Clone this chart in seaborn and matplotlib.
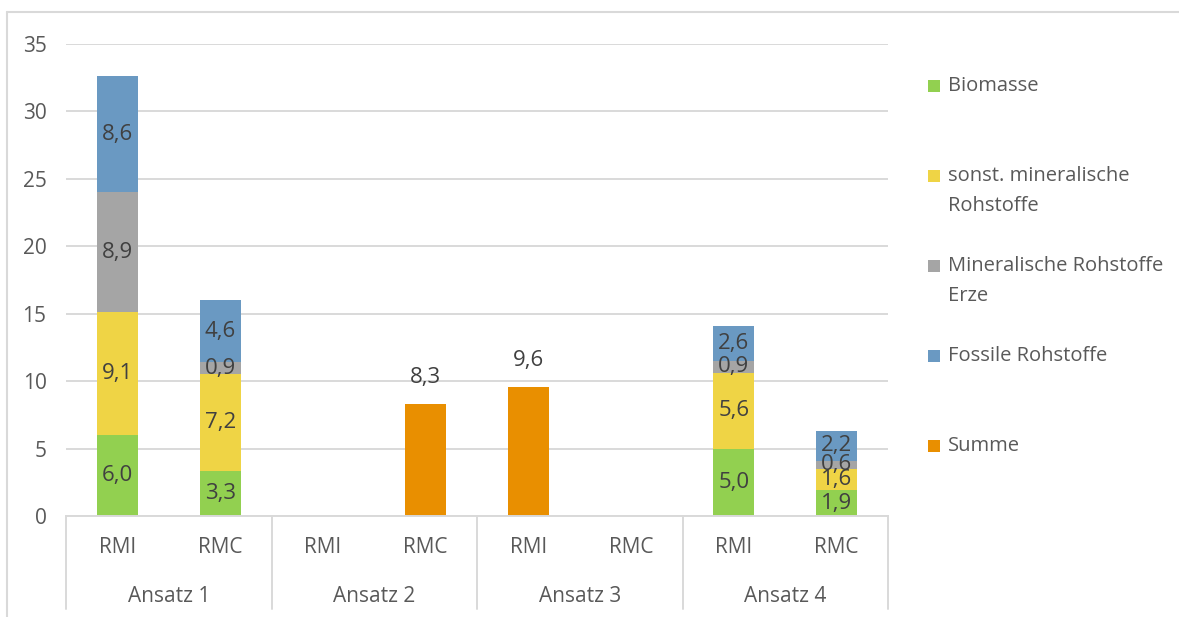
import numpy as np
import pandas as pd
import matplotlib.pyplot as plt
import seaborn as sns
from matplotlib.lines import Line2D
from matplotlib.patches import Rectangle
from matplotlib.transforms import blended_transform_factory

# Data (one value per bar: A1 RMI, A1 RMC, A2 RMI, A2 RMC, A3 RMI, A3 RMC, A4 RMI, A4 RMC)
ansatz = ['Ansatz 1', 'Ansatz 2', 'Ansatz 3', 'Ansatz 4']
indikator = ['RMI', 'RMC']
biomasse = [6.0, 3.3, 0, 0, 0, 0, 5.0, 1.9]
sonst_mineral = [9.1, 7.2, 0, 0, 0, 0, 5.6, 1.6]
mineral_erze = [8.9, 0.9, 0, 0, 0, 0, 0.9, 0.6]
fossil = [8.6, 4.6, 0, 0, 0, 0, 2.6, 2.2]
summe = [0, 0, 0, 8.3, 9.6, 0, 0, 0]

layer_names = ['Biomasse', 'sonst. mineralische\nRohstoffe',
               'Mineralische Rohstoffe\nErze', 'Fossile Rohstoffe']
layer_values = [biomasse, sonst_mineral, mineral_erze, fossil]
layer_colors = ['#92D050', '#EFD445', '#A5A5A5', '#6A99C2']
summe_color = '#E98F00'

sns.set_theme(style='white')
plt.rcParams['font.family'] = ['Open Sans', 'DejaVu Sans']

cats = [f'{a}|{i}' for a in ansatz for i in indikator]

fig = plt.figure(figsize=(11.79, 6.17), dpi=100)
W, H = 1179, 617
ax = fig.add_axes([66 / W, 101 / H, (888 - 66) / W, 472 / H])

# stacked bars: draw cumulative totals from the top layer down
vals = np.array(layer_values, dtype=float)
cum = np.cumsum(vals, axis=0)
for k in range(len(layer_values) - 1, -1, -1):
    df = pd.DataFrame({'cat': cats, 'val': cum[k]})
    sns.barplot(data=df, x='cat', y='val', order=cats, color=layer_colors[k],
                saturation=1, width=0.4, errorbar=None, linewidth=0, ax=ax)

df_sum = pd.DataFrame({'cat': cats, 'val': summe})
sns.barplot(data=df_sum, x='cat', y='val', order=cats, color=summe_color,
            saturation=1, width=0.4, errorbar=None, linewidth=0, ax=ax)

def fmt(v):
    return f'{v:.1f}'.replace('.', ',')

# segment labels
for k in range(len(layer_values)):
    for i, v in enumerate(vals[k]):
        if v > 0:
            ax.text(i, cum[k][i] - v / 2, fmt(v), ha='center', va='center',
                    fontsize=16, color='#404040')
for i, v in enumerate(summe):
    if v > 0:
        ax.annotate(fmt(v), (i, v), xytext=(0, 19), textcoords='offset points',
                    ha='center', va='center', fontsize=16, color='#404040')

ax.set_xlim(-0.5, len(cats) - 0.5)
ax.set_ylim(0, 35)
ax.set_yticks(range(0, 36, 5))
ax.set_xticks(range(len(cats)))
ax.set_xticklabels([c.split('|')[1] for c in cats])
ax.set_xlabel('')
ax.set_ylabel('')
ax.grid(axis='y', color='#D9D9D9', lw=1.4)
ax.set_axisbelow(True)
for s in ['left', 'right', 'top']:
    ax.spines[s].set_visible(False)
ax.spines['bottom'].set_color('#D9D9D9')
ax.spines['bottom'].set_linewidth(1.4)
ax.tick_params(axis='y', length=0, pad=14, labelsize=15, labelcolor='#595959')
ax.tick_params(axis='x', length=0, pad=15, labelsize=15, labelcolor='#595959')

# group labels and separators below the axis
trans = blended_transform_factory(ax.transData, ax.transAxes)
for g, name in enumerate(ansatz):
    ax.text(2 * g + 0.5, -81 / 472, name, transform=trans, ha='center',
            va='center', fontsize=15, color='#595959')
for x in np.arange(-0.5, len(cats), 2):
    ax.plot([x, x], [0, -93 / 472], transform=trans, clip_on=False,
            color='#D9D9D9', lw=1.4)

# legend on the right
legend_items = layer_names + ['Summe']
legend_colors = layer_colors + [summe_color]
for j, (name, col) in enumerate(zip(legend_items, legend_colors)):
    y0 = 86 + 90 * j
    fig.add_artist(Rectangle((928 / W, 1 - (y0 + 6) / H), 12 / W, 12 / H,
                             transform=fig.transFigure, color=col, lw=0))
    for li, line in enumerate(name.split('\n')):
        fig.text(948 / W, 1 - (y0 + 30 * li) / H, line, ha='left',
                 va='center', fontsize=14.5, color='#595959')

# chart border
fig.add_artist(Line2D([7 / W, 1], [1 - 12 / H, 1 - 12 / H], color='#D9D9D9', lw=1.5))
fig.add_artist(Line2D([7 / W, 7 / W], [0, 1 - 12 / H], color='#D9D9D9', lw=1.5))

fig.savefig('out.png', dpi=100)
